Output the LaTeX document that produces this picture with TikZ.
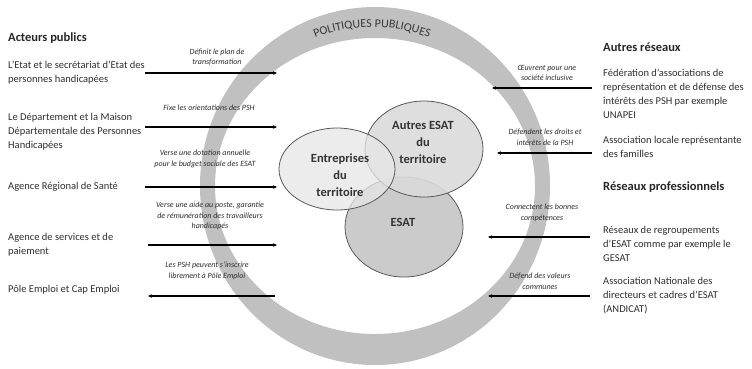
\documentclass[tikz,border=0pt]{standalone}
\usepackage{fontspec}
\setmainfont{Carlito}
\usetikzlibrary{arrows.meta,decorations.text}
\definecolor{anneau}{HTML}{C0C0C0}
\definecolor{texte}{HTML}{2E2E2E}
\definecolor{bulleA}{HTML}{E6E6E6}
\definecolor{bulleB}{HTML}{DADADA}
\definecolor{bulleC}{HTML}{CBCBCB}

\begin{document}
\begin{tikzpicture}[x=1pt,y=-1pt,
  titre/.style={anchor=west, inner sep=0pt, font=\fontsize{12.5}{15}\selectfont\bfseries, text=black!85},
  acteur/.style={anchor=west, align=left, inner sep=0pt, font=\fontsize{10.5}{14}\selectfont, text=texte},
  role/.style={align=center, inner sep=0pt, font=\fontsize{8}{10.5}\selectfont\itshape, text=texte},
  fleche/.style={line width=1.2pt, -{Stealth[length=4pt,width=3.5pt]}},
  bulle/.style={draw=black!65, line width=0.8pt},
  nom/.style={align=center, inner sep=0pt, font=\fontsize{12.5}{17}\selectfont\bfseries, text=black!80}]
\useasboundingbox (0,0) rectangle (752,368);
\fill[anneau, even odd rule] (375,186) ellipse [x radius=175, y radius=179] (375,186) ellipse [x radius=160, y radius=148];
\path[decorate, decoration={text along path, text align=center, text={|\fontsize{12}{12}\selectfont\color{black!78}|POLITIQUES PUBLIQUES}}] (372,182) ++(230:155) arc[start angle=230, end angle=310, radius=155];

\filldraw[bulle, fill=bulleC] (404,227) ellipse [x radius=59, y radius=50];
\filldraw[bulle, fill=bulleB, fill opacity=0.9] (424,149) ellipse [x radius=59, y radius=48];
\filldraw[bulle, fill=bulleA, fill opacity=0.75] (337,169) ellipse [x radius=58, y radius=41];
\node[nom] (entreprises) at (340,175) {Entreprises\\du\\territoire};
\node[nom] (autres) at (423,142) {Autres ESAT\\du\\territoire};
\node[nom] (esat) at (403,222) {ESAT};

\node[titre] (publics) at (8,38) {Acteurs publics};
\node[acteur] (etat) at (8,73) {L’Etat et le secrétariat d’Etat des\\personnes handicapées};
\node[acteur] (departement) at (8,132) {Le Département et la Maison\\Départementale des Personnes\\Handicapées};
\node[acteur] (ars) at (8,187) {Agence Régional de Santé};
\node[acteur] (asp) at (8,245) {Agence de services et de\\paiement};
\node[acteur] (pole) at (8,290) {Pôle Emploi et Cap Emploi};

\coordinate (g1) at (145,73); \coordinate (d1) at (277,73);
\coordinate (g2) at (145,127); \coordinate (d2) at (277,127);
\coordinate (g3) at (145,187); \coordinate (d3) at (277,187);
\coordinate (g4) at (148,245); \coordinate (d4) at (277,245);
\coordinate (g5) at (148,296); \coordinate (d5) at (275,296);
\draw[fleche] (g1) -- (d1);
\draw[fleche] (g2) -- (d2);
\draw[fleche] (g3) -- (d3);
\draw[fleche] (g4) -- (d4);
\draw[fleche] (d5) -- (g5);
\node[role] (plan) at (217,57) {Définit le plan de\\transformation};
\node[role] (orientations) at (209,108) {Fixe les orientations des PSH};
\node[role] (dotation) at (205,159) {Verse une dotation annuelle\\pour le budget sociale des ESAT};
\node[role] (aide) at (210,216) {Verse une aide au poste, garantie\\de rémunération des travailleurs\\handicapés};
\node[role] (inscrire) at (207,271) {Les PSH peuvent s’inscrire\\librement à Pôle Emploi};

\node[titre] (reseaux) at (603,47) {Autres réseaux};
\node[acteur] (federation) at (603,94) {Fédération d’associations de\\représentation et de défense des\\intérêts des PSH par exemple\\UNAPEI};
\node[acteur] (familles) at (603,147) {Association locale représentante\\des familles};
\node[titre] (pros) at (603,187) {Réseaux professionnels};
\node[acteur] (gesat) at (603,244) {Réseaux de regroupements\\d’ESAT comme par exemple le\\GESAT};
\node[acteur] (andicat) at (603,296) {Association Nationale des\\directeurs et cadres d’ESAT\\(ANDICAT)};

\coordinate (e1) at (592,88); \coordinate (f1) at (492,88);
\coordinate (e2) at (592,153); \coordinate (f2) at (497,153);
\coordinate (e3) at (590,237); \coordinate (f3) at (488,237);
\coordinate (e4) at (590,296); \coordinate (f4) at (488,296);
\draw[fleche] (e1) -- (f1);
\draw[fleche] (e2) -- (f2);
\draw[fleche] (e3) -- (f3);
\draw[fleche] (e4) -- (f4);
\node[role] (inclusive) at (547,73) {Œuvrent pour une\\société inclusive};
\node[role] (droits) at (545,137) {Défendent les droits et\\intérêts de la PSH};
\node[role] (competences) at (542,213) {Connectent les bonnes\\compétences};
\node[role] (valeurs) at (540,281) {Défend des valeurs\\communes};
\end{tikzpicture}
\end{document}
